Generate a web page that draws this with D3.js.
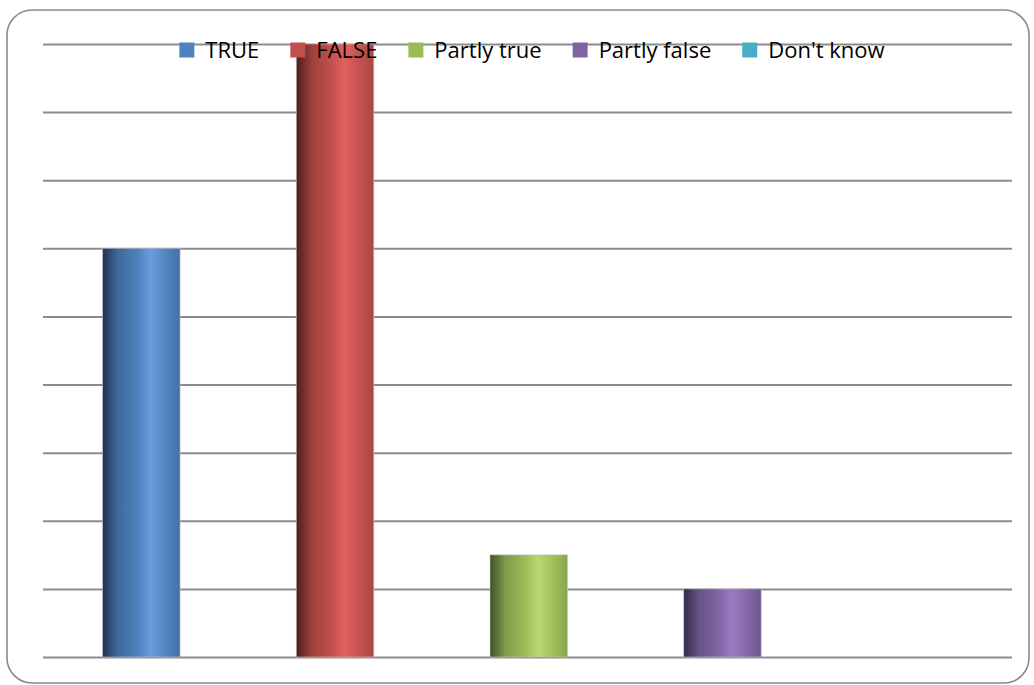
<!DOCTYPE html>
<html>
<head>
<meta charset="utf-8">
<script src="https://cdn.jsdelivr.net/npm/d3@7"></script>
<style>
  html, body { margin: 0; padding: 0; background: #ffffff; }
  svg { display: block; }
  text { font-family: "Open Sans", "Liberation Sans", sans-serif; }
</style>
</head>
<body>
<svg id="chart" width="1034" height="685"></svg>
<script>
// Answer categories and the number of responses for each
const categories = ["TRUE", "FALSE", "Partly true", "Partly false", "Don't know"];
const counts = [12, 18, 3, 2, 0];
const gridTicks = [0, 2, 4, 6, 8, 10, 12, 14, 16, 18];

// Base colour and the dark / light / edge shades used for the cylinder shading
const baseColors  = ["#4f81bd", "#c0504d", "#9bbb59", "#8064a2", "#4bacc6"];
const darkShades  = ["#1f3250", "#4d1d1c", "#3f5326", "#33284a", "#1d4a57"];
const lightShades = ["#6a9de0", "#e0615f", "#b9da70", "#9b7cc4", "#6cc8e2"];
const edgeShades  = ["#4670a6", "#ab4543", "#88a64e", "#6d5690", "#3f96ad"];

const svg = d3.select("#chart");

// Rounded frame around the chart area
svg.append("rect")
  .attr("x", 7).attr("y", 10)
  .attr("width", 1022).attr("height", 673)
  .attr("rx", 25).attr("ry", 25)
  .attr("fill", "#ffffff")
  .attr("stroke", "#8a8a8a")
  .attr("stroke-width", 1.6);

const plot = { left: 43, right: 1012, top: 44, bottom: 657 };

const x = d3.scaleBand()
  .domain(categories)
  .range([44.5, 1013])
  .paddingInner(0.6)
  .paddingOuter(0.3);

const y = d3.scaleLinear()
  .domain([0, 18])
  .range([plot.bottom, plot.top]);

// Horizontal gridlines (no tick labels)
const grid = svg.append("g")
  .attr("transform", `translate(${plot.left},0)`)
  .call(d3.axisLeft(y)
    .tickValues(gridTicks)
    .tickSize(-(plot.right - plot.left))
    .tickFormat(""));
grid.select(".domain").remove();
grid.selectAll(".tick line")
  .attr("stroke", "#8c8c8c")
  .attr("stroke-width", 2);

// Horizontal gradients giving each bar its rounded, lit look
const defs = svg.append("defs");
categories.forEach((c, i) => {
  const g = defs.append("linearGradient")
    .attr("id", "grad" + i)
    .attr("x1", "0%").attr("x2", "100%")
    .attr("y1", "0%").attr("y2", "0%");
  [
    [0, darkShades[i]],
    [0.2, d3.interpolateRgb(darkShades[i], baseColors[i])(0.7)],
    [0.45, baseColors[i]],
    [0.62, lightShades[i]],
    [0.85, baseColors[i]],
    [1, edgeShades[i]]
  ].forEach(([o, col]) => g.append("stop").attr("offset", o).attr("stop-color", col));
});

svg.append("g")
  .selectAll("rect")
  .data(categories.map((c, i) => ({ c, v: counts[i], i })).filter(d => d.v > 0))
  .join("rect")
  .attr("x", d => x(d.c))
  .attr("y", d => y(d.v))
  .attr("width", x.bandwidth())
  .attr("height", d => y(0) - y(d.v))
  .attr("fill", d => `url(#grad${d.i})`)
  .attr("stroke", "rgba(200,200,200,0.7)")
  .attr("stroke-width", 0.8);

// Legend across the top
const legend = svg.append("g");
const items = legend.selectAll("g")
  .data(categories)
  .join("g");
items.append("rect")
  .attr("width", 15).attr("height", 15)
  .attr("y", 42.5)
  .attr("fill", (d, i) => baseColors[i]);
items.append("text")
  .attr("x", 26)
  .attr("y", 58)
  .attr("font-size", 22)
  .attr("fill", "#000")
  .text(d => d);

let cursor = 0;
const gap = 31;
items.each(function () {
  const g = d3.select(this);
  const w = 26 + g.select("text").node().getComputedTextLength();
  g.attr("transform", `translate(${cursor},0)`);
  cursor += w + gap;
});
const totalW = cursor - gap;
legend.attr("transform", `translate(${532 - totalW / 2},0)`);
</script>
</body>
</html>
